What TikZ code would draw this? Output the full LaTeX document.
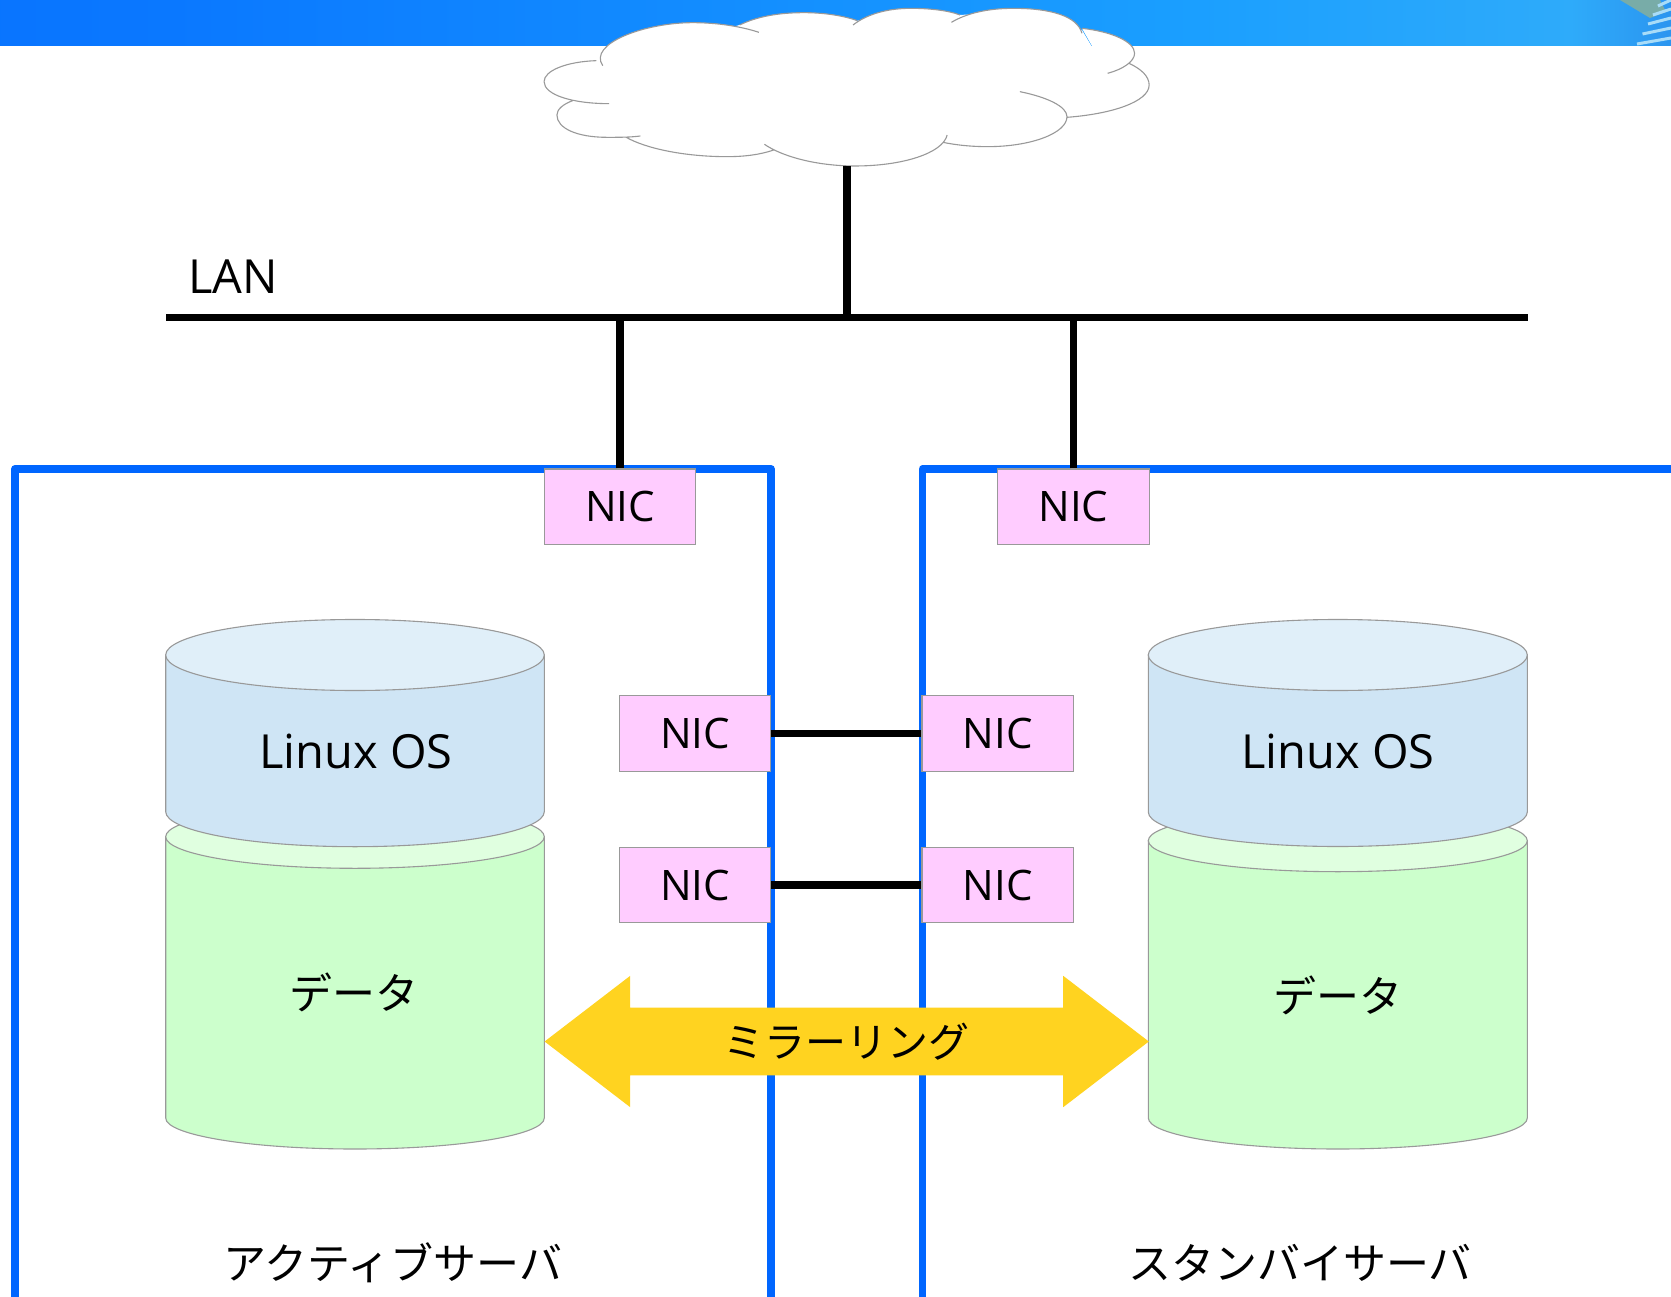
\documentclass[tikz,border=0pt]{standalone}
\usepackage{fontspec}
\setmainfont{Noto Sans CJK JP}
\newfontfamily\latinfont{Open Sans}
\usetikzlibrary{shapes.arrows}

\definecolor{serverblue}{HTML}{0066FF}
\definecolor{nicpink}{HTML}{FFCCFF}
\definecolor{edgegray}{HTML}{999999}
\definecolor{osside}{HTML}{CFE5F5}
\definecolor{ostop}{HTML}{E0EFF9}
\definecolor{dataside}{HTML}{CCFFCC}
\definecolor{datatop}{HTML}{E0FFE0}
\definecolor{mirrorgold}{HTML}{FFD320}
\definecolor{cornergreen}{HTML}{78ACA8}
\definecolor{cornerstripe}{HTML}{A8DCF8}

\pgfdeclarehorizontalshading{bandshade}{100bp}{
  rgb(0bp)=(0,0.4,1);
  rgb(30bp)=(0.04,0.47,1);
  rgb(60bp)=(0.1,0.62,1);
  rgb(72bp)=(0.18,0.67,0.98);
  rgb(78bp)=(0.16,0.5,0.9);
  rgb(84bp)=(0.16,0.42,0.85);
  rgb(88.5bp)=(0.25,0.69,0.97);
  rgb(93.5bp)=(0.2,0.6,0.88);
  rgb(97bp)=(0.35,0.6,0.91);
  rgb(100bp)=(0.38,0.62,0.92)
}

\tikzset{
  nicbox/.style={draw=edgegray,fill=nicpink,line width=1.1pt,minimum width=151.5pt,minimum height=75.7pt,inner sep=0pt,font=\latinfont\fontsize{42}{50}\selectfont},
  wire/.style={line width=7.6pt,black},
  serverline/.style={draw=serverblue,line width=7.4pt,line join=round},
  drumline/.style={draw=edgegray,line width=1.1pt},
  cloudline/.style={draw=edgegray,line width=1.1pt,fill=white},
  drumlabel/.style={inner sep=0pt,font=\latinfont\fontsize{47}{56}\selectfont},
  caption/.style={inner sep=0pt,font=\fontsize{43}{52}\selectfont}
}

\begin{document}
\begin{tikzpicture}[x=1pt,y=-1pt]

  \clip (0,0) rectangle (1671,1297);
  \fill [white] (0,0) rectangle (1671,1297);
  \shade [shading=bandshade] (0,0) rectangle (1671,45.8);
  \fill [cornergreen] (1620,0) -- (1660,0) -- (1666,12) -- (1650,18);
  \foreach \y in {6,15,24,34,44}
    \draw [cornerstripe,line width=3pt] (1671,\y-6) -- (1637+44*0.55-\y*0.55,\y);

  \begin{scope}[shift={(500,0)},x=0.4279pt,y=-0.3333pt]
    \fill [white] (240,190) -- (560,75) -- (710,45) -- (835,62) -- (960,35) -- (1075,45) -- (1200,35) -- (1360,90) -- (1420,220) -- (1325,352) -- (1035,427) -- (830,498) -- (618,433) -- (295,412) -- (170,302) -- cycle;
    \draw [cloudline]
      (240,197) .. controls (205,130) and (340,68) .. (450,68) .. controls (510,68) and (565,80) .. (605,97)
      (560,75) .. controls (600,50) and (650,38) .. (710,38) .. controls (760,38) and (805,48) .. (835,62)
      (825,75) .. controls (860,40) and (910,25) .. (960,25) .. controls (1005,25) and (1050,32) .. (1075,45)
      (1055,67) .. controls (1090,40) and (1140,25) .. (1200,25) .. controls (1290,25) and (1350,50) .. (1360,100)
      (1360,85) .. controls (1430,95) and (1483,125) .. (1483,160) .. controls (1483,185) and (1455,208) .. (1420,220)
      (1470,190) .. controls (1500,208) and (1517,230) .. (1517,255) .. controls (1517,305) and (1430,342) .. (1325,352)
      (1215,275) .. controls (1280,292) and (1325,320) .. (1325,350) .. controls (1325,400) and (1240,440) .. (1140,440) .. controls (1100,440) and (1065,435) .. (1035,427)
      (1045,405) .. controls (1035,460) and (940,498) .. (830,498) .. controls (740,498) and (660,470) .. (618,433)
      (640,450) .. controls (605,465) and (570,470) .. (530,470) .. controls (430,470) and (340,445) .. (295,412)
      (328,408) .. controls (305,412) and (280,412) .. (250,412) .. controls (180,412) and (133,385) .. (133,345) .. controls (133,328) and (148,312) .. (170,302)
      (255,311) .. controls (170,311) and (103,285) .. (103,245) .. controls (103,212) and (155,185) .. (225,182);
  \end{scope}

  \draw [serverline] (14.8,1300.5) rectangle (771,468.8);
  \draw [serverline] (1700,1300.5) rectangle (922.6,468.8);

  \coordinate (cloudfoot) at (847,166);
  \coordinate (lanleft) at (166,317.6);
  \coordinate (lanright) at (1527.5,317.6);

  \node [nicbox] (nicActiveLan) at (620,506.8) {NIC};
  \node [nicbox] (nicStandbyLan) at (1073.3,506.8) {NIC};
  \node [nicbox] (nicActiveA) at (695,733.3) {NIC};
  \node [nicbox] (nicStandbyA) at (997.7,733.3) {NIC};
  \node [nicbox] (nicActiveB) at (695,885) {NIC};
  \node [nicbox] (nicStandbyB) at (997.7,885) {NIC};

  \draw [wire] (lanleft) -- (lanright);
  \draw [wire] (cloudfoot) -- (cloudfoot |- lanleft);
  \draw [wire] (nicActiveLan.north) -- (nicActiveLan.north |- lanleft);
  \draw [wire] (nicStandbyLan.north) -- (nicStandbyLan.north |- lanleft);
  \draw [wire] (nicActiveA.east) -- (nicStandbyA.west);
  \draw [wire] (nicActiveB.east) -- (nicStandbyB.west);

  \draw [drumline,fill=dataside] (165.7,836.7) -- (165.7,1118) arc (180:0:189.3 and 31) -- (544.3,836.7) -- cycle;
  \draw [drumline,fill=datatop] (355,836.7) ellipse (189.3 and 31.6);
  \draw [drumline,fill=osside] (165.7,655) -- (165.7,811.7) arc (180:0:189.3 and 35) -- (544.3,655) -- cycle;
  \draw [drumline,fill=ostop] (355,655) ellipse (189.3 and 35.5);
  \draw [drumline,fill=dataside] (1148.3,840.7) -- (1148.3,1118) arc (180:0:189.5 and 31) -- (1527.3,840.7) -- cycle;
  \draw [drumline,fill=datatop] (1337.8,840.7) ellipse (189.5 and 31);
  \draw [drumline,fill=osside] (1148.3,655) -- (1148.3,812) arc (180:0:189.5 and 34.5) -- (1527.3,655) -- cycle;
  \draw [drumline,fill=ostop] (1337.8,655) ellipse (189.5 and 35.5);

  \node [drumlabel] (osActive) at (356,751.7) {Linux OS};
  \node [drumlabel] (osStandby) at (1338,751.7) {Linux OS};
  \node [caption] (dataActive) at (354,992) {データ};
  \node [caption] (dataStandby) at (1338,995) {データ};

  \node [double arrow,fill=mirrorgold,inner sep=0pt,minimum height=604.2pt,minimum width=131.4pt,double arrow head extend=17.6pt,double arrow head indent=0pt,double arrow tip angle=75,font=\fontsize{41}{48}\selectfont] (mirror) at (846.7,1041.5) {ミラーリング};

  \node [drumlabel,anchor=west] (lan) at (188,277) {LAN};
  \node [caption] (active) at (393,1263) {アクティブサーバ};
  \node [caption] (standby) at (1300,1263) {スタンバイサーバ};

\end{tikzpicture}
\end{document}
